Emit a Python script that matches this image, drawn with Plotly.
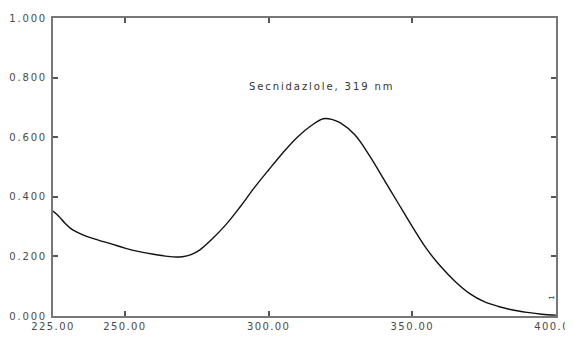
import plotly.graph_objects as go

wavelength = [225, 227, 229, 231, 233, 235, 238, 241, 245, 250, 255, 260, 265, 268, 270, 273, 276,
              280, 285, 290, 295, 300, 305, 310, 315, 319, 322, 325, 330, 335, 340, 345,
              350, 355, 360, 365, 370, 375, 380, 385, 390, 395, 400]
absorbance = [0.352, 0.335, 0.313, 0.295, 0.283, 0.274, 0.263, 0.254, 0.243, 0.228, 0.216,
              0.207, 0.200, 0.198, 0.199, 0.206, 0.221, 0.255, 0.305, 0.365, 0.430, 0.490,
              0.548, 0.600, 0.640, 0.662, 0.660, 0.648, 0.608, 0.540, 0.460, 0.380, 0.300,
              0.225, 0.165, 0.115, 0.075, 0.048, 0.032, 0.020, 0.012, 0.006, 0.003]
x_ticks = [225, 250, 300, 350, 400]
x_tick_labels = ["225.00", "250.00", "300.00", "350.00", "400.00"]
y_ticks = [0, 0.2, 0.4, 0.6, 0.8, 1.0]
y_tick_labels = ["0.000", "0.200", "0.400", "0.600", "0.800", "1.000"]
peak_label = "Secnidazlole, 319 nm"
x_title = "nm"


def spaced(t, px):
    return '<span style="letter-spacing:%spx">%s</span>' % (px, t)


font = dict(family="DejaVu Sans", size=10, color="#4a4a4a")

fig = go.Figure()
fig.add_trace(go.Scatter(x=wavelength, y=absorbance, mode="lines",
                         line=dict(color="#111111", width=1.4, shape="spline", smoothing=1.0),
                         showlegend=False))

axis_common = dict(showline=True, linecolor="#777777", linewidth=2, mirror="ticks",
                   ticks="inside", ticklen=5, tickcolor="#555555", tickwidth=1.5,
                   showgrid=False, zeroline=False, tickfont=font,
                   ticklabeloverflow="allow", automargin=False)
fig.update_xaxes(range=[225, 400], tickvals=x_ticks,
                 ticktext=[spaced(t, 1.4) for t in x_tick_labels], **axis_common)
fig.update_yaxes(range=[0, 1.0], tickvals=y_ticks, ticklabelstandoff=2,
                 ticktext=[spaced(t, 1.8) for t in y_tick_labels], **axis_common)

fig.add_annotation(x=318.5, y=0.77, xref="x", yref="y", text=spaced(peak_label, 1.9),
                   showarrow=False, font=dict(family="DejaVu Sans", size=10, color="#333333"))
fig.add_annotation(x=0.5, y=-0.074, xref="paper", yref="paper", yanchor="top",
                   text=spaced(x_title, 1.4), showarrow=False, font=font)
fig.add_annotation(x=398.5, y=0.06, xref="x", yref="y", text="1", textangle=-90,
                   showarrow=False, font=dict(family="DejaVu Sans", size=7, color="#333333"))

fig.update_layout(width=565, height=334, margin=dict(l=45, r=17, t=10, b=26),
                  paper_bgcolor="white", plot_bgcolor="white", font=font)

fig.write_html("out.html")
